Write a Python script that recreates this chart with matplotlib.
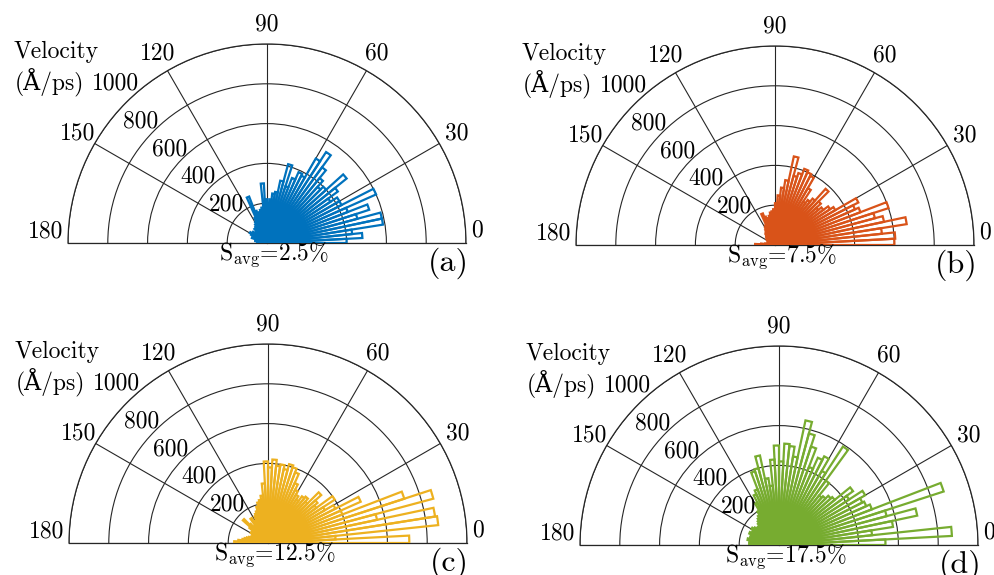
import numpy as np
import matplotlib
matplotlib.use("Agg")
import matplotlib.pyplot as plt

plt.rcParams['font.family'] = ['cmr10', 'DejaVu Serif']
plt.rcParams['mathtext.fontset'] = 'cm'
plt.rcParams['axes.formatter.use_mathtext'] = True

# 3-degree bins from 0 to 180 deg, velocity in A/ps
bin_width_deg = 3
bin_left_deg = np.arange(0, 180, bin_width_deg)

vel_a = [400, 480, 430, 590, 590, 470, 540, 435, 600, 420,
         420, 380, 440, 515, 400, 380, 420, 470, 545, 490,
         380, 390, 350, 300, 410, 320, 260, 250, 220, 200,
         220, 300, 180, 170, 160, 150, 170, 250, 140, 120,
         110, 100, 90, 95, 80, 75, 70, 90, 80, 100,
         90, 70, 60, 80, 60, 50, 60, 50, 45, 40]
vel_b = [600, 605, 540, 670, 560, 520, 600, 460, 440, 470,
         350, 330, 300, 280, 310, 380, 300, 280, 260, 330,
         390, 400, 410, 380, 360, 455, 330, 290, 250, 210,
         180, 170, 165, 150, 140, 130, 150, 170, 110, 100,
         90, 80, 75, 70, 60, 60, 55, 50, 50, 45,
         40, 40, 35, 35, 30, 30, 40, 50, 70, 100]
vel_c = [710, 340, 860, 850, 560, 860, 720, 400, 510, 380,
         330, 400, 300, 320, 360, 280, 300, 290, 260, 280,
         300, 330, 380, 400, 410, 380, 400, 390, 420, 380,
         410, 300, 240, 220, 210, 190, 170, 160, 150, 130,
         120, 150, 110, 100, 130, 170, 120, 100, 90, 100,
         90, 80, 85, 90, 100, 110, 120, 130, 150, 170]
vel_d = [535, 870, 470, 580, 710, 560, 870, 500, 480, 470,
         500, 420, 460, 360, 350, 330, 320, 400, 590, 430,
         500, 480, 420, 520, 580, 640, 450, 500, 510, 420,
         500, 430, 300, 340, 460, 400, 390, 300, 280, 240,
         200, 180, 170, 160, 150, 140, 130, 140, 150, 160,
         150, 140, 160, 150, 140, 150, 160, 150, 140, 150]

series = [vel_a, vel_b, vel_c, vel_d]
colors = ['#0072BD', '#D95319', '#EDB120', '#77AC30']
s_avg = ['2.5', '7.5', '12.5', '17.5']
panel_tags = ['(a)', '(b)', '(c)', '(d)']
r_ticks = [200, 400, 600, 800, 1000]
theta_ticks = [0, 30, 60, 90, 120, 150, 180]

# panel centre (px from top-left) and outer radius in px
centers = [(267, 243), (775, 245), (268, 543), (779, 545)]
R = 199
W, H = 994, 575
FS = 17

fig = plt.figure(figsize=(W / 100, H / 100), dpi=100)


def ftext(x, y, s, **kw):
    # place text by pixel position (from top-left)
    fig.text(x / W, (H - y) / H, s, **kw)


for vals, col, sa, tag, (cx, cy) in zip(series, colors, s_avg, panel_tags, centers):
    # half-wedge sits in the middle band of a square polar box
    ax = fig.add_axes([(cx - R) / W, (H - cy - 0.5 * R) / H,
                       2 * R / W, 2 * R / H], projection='polar')
    ax.set_thetamin(0); ax.set_thetamax(180)
    ax.set_rlim(0, 1000)
    ax.set_axisbelow(True)
    theta = np.deg2rad(bin_left_deg + bin_width_deg / 2)
    ax.bar(theta, vals, width=np.deg2rad(bin_width_deg), fill=False,
           edgecolor=col, linewidth=1.6, zorder=3)

    ax.set_thetagrids(theta_ticks, [''] * len(theta_ticks))
    ax.set_rgrids(r_ticks, [''] * len(r_ticks))
    ax.grid(True, color='#262626', linewidth=0.8)
    for sp in ax.spines.values():
        sp.set_color('#262626'); sp.set_linewidth(0.9)

    # angle labels just outside the rim
    for t in theta_ticks:
        if t == 0:
            ang, rr = 3.3, 1057
        elif t == 180:
            ang, rr = 176.9, 1116
        else:
            ang, rr = t, 1100
        ax.text(np.deg2rad(ang), rr, str(t), fontsize=FS, ha='center', va='center',
                clip_on=False)
    # radius labels along the ~136 deg direction
    for r in r_ticks:
        ang, off = (133.5, 106) if r == 1000 else (136, 80)
        ax.text(np.deg2rad(ang), r + off, str(r), fontsize=FS, ha='center', va='center',
                clip_on=False)

    ftext(cx - 253, cy - 191, 'Velocity', fontsize=FS, ha='left', va='center')
    ftext(cx - 252, cy - 160, '(Å/ps)', fontsize=FS, ha='left', va='center')
    ftext(cx + 7, cy + 12, r'S$_{\mathrm{avg}}$=' + sa + '%', fontsize=FS,
          ha='center', va='center')
    ftext(cx + 181, cy + 20, tag, fontsize=23, ha='center', va='center')

fig.savefig('out.png', dpi=100)
